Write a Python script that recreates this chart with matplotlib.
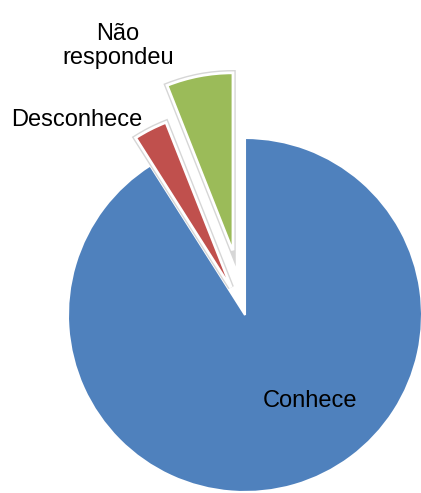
import matplotlib.pyplot as plt
import matplotlib.patheffects as pe

# Respostas (percentual)
categorias = ['Conhece', 'Desconhece', 'Não\nrespondeu']
valores = [91, 3, 6]
cores = ['#4F81BD', '#C0504D', '#9BBB59']
destaque = [0, 31, 66]  # deslocamento das fatias (em pixels)

fig = plt.figure(figsize=(4.21, 4.93), dpi=100)
ax = fig.add_axes([0, 0, 1, 1])

wedges, _ = ax.pie(valores, colors=cores, explode=destaque, startangle=90,
                   counterclock=False, radius=177, center=(245, 178),
                   frame=True,
                   wedgeprops=dict(edgecolor='white', linewidth=1.5))
ax.set_xlim(0, 421)
ax.set_ylim(0, 493)
ax.set_aspect('equal')
ax.axis('off')
# sombra clara apenas nas fatias destacadas
for w in wedges[1:]:
    w.set_path_effects([pe.Stroke(linewidth=4.5, foreground='#d6d6d6'),
                        pe.Stroke(linewidth=2.5, foreground='white'),
                        pe.Normal()])

fonte = dict(family=['Liberation Sans', 'DejaVu Sans'], fontsize=17, color='black')
ax.text(310, 92, categorias[0], ha='center', va='center', **fonte)
ax.text(77, 373, categorias[1], ha='center', va='center', **fonte)
ax.text(118, 447, categorias[2], ha='center', va='center', linespacing=1.15, **fonte)

fig.savefig('out.png', dpi=100)
